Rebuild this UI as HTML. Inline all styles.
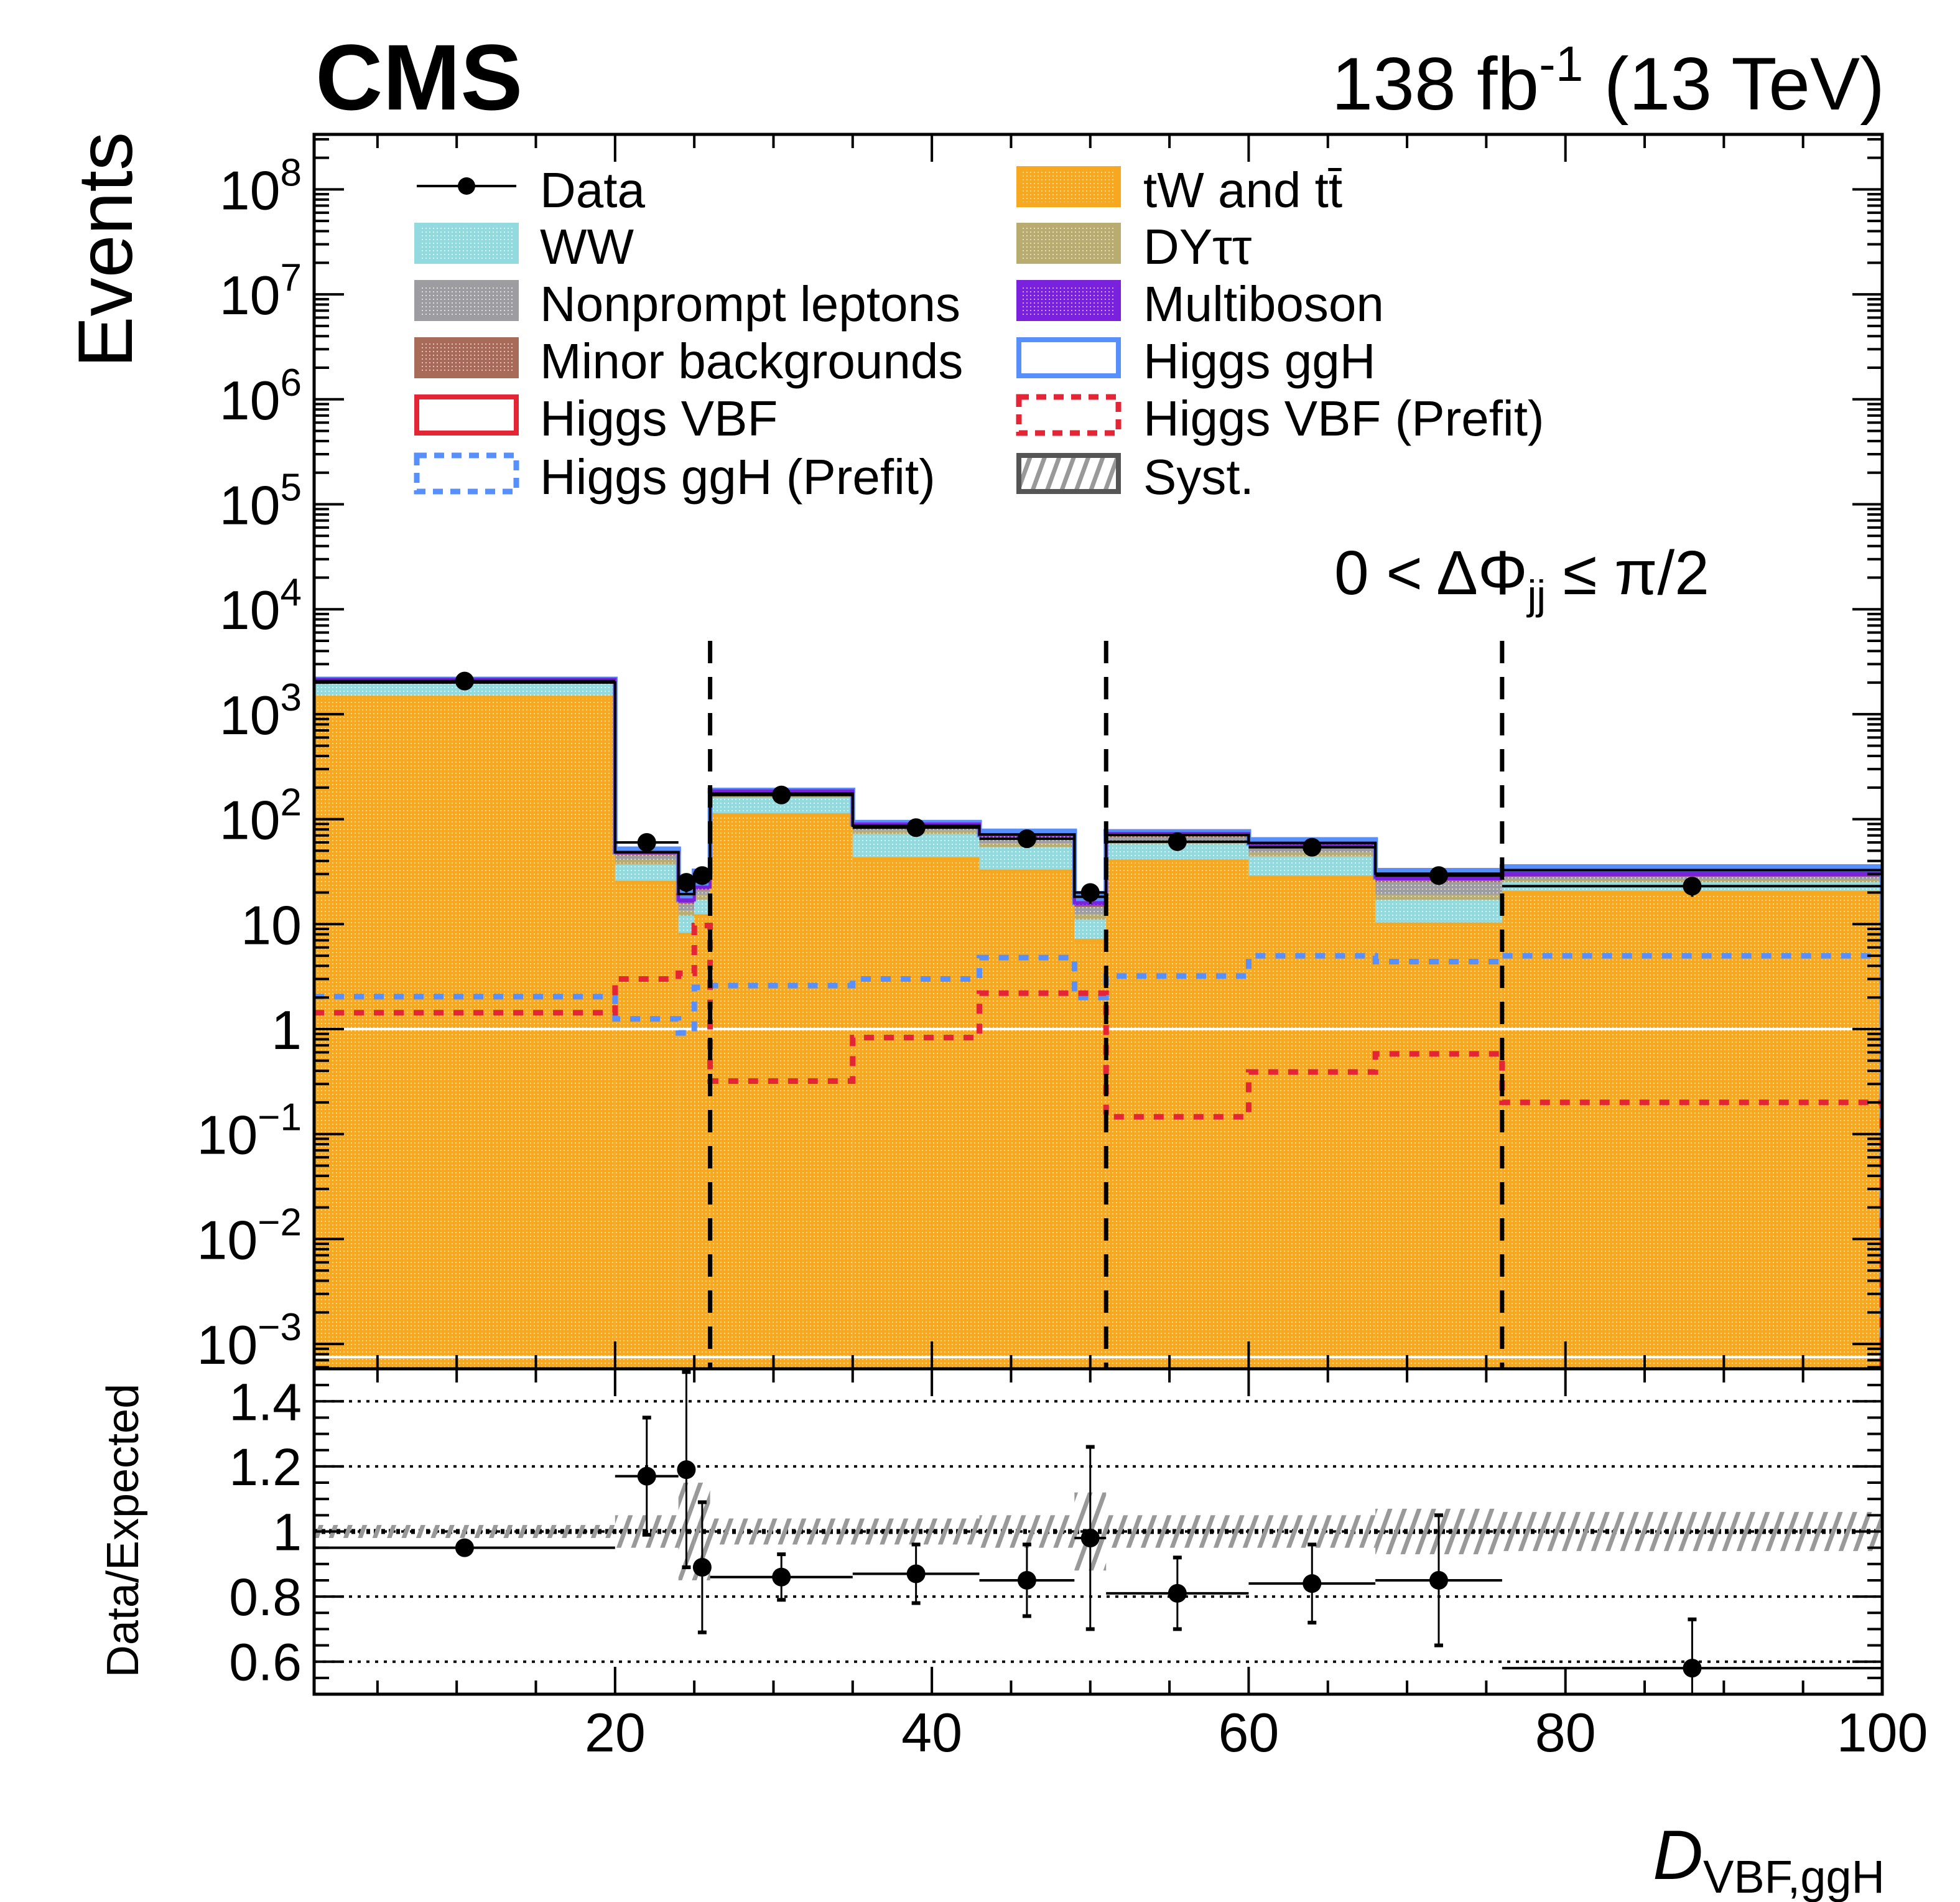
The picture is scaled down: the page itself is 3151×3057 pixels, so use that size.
<!DOCTYPE html>
<html><head><meta charset="utf-8"><style>
html,body{margin:0;padding:0;background:#fff}
svg{display:block}
text{font-family:"Liberation Sans",Arial,sans-serif;fill:#000}
</style></head><body>
<svg id="c" width="3151" height="3057" viewBox="0 0 3151 3057" xmlns="http://www.w3.org/2000/svg">
<defs>
<pattern id="pOr" width="6" height="6" patternUnits="userSpaceOnUse"><rect width="6" height="6" fill="#f6a821"/><rect x="0" y="0" width="2" height="2" fill="#fcd98a"/></pattern>
<pattern id="pWW" width="6" height="6" patternUnits="userSpaceOnUse"><rect width="6" height="6" fill="#92dadd"/><rect width="2" height="2" fill="#d8f2f3"/></pattern>
<pattern id="pDY" width="6" height="6" patternUnits="userSpaceOnUse"><rect width="6" height="6" fill="#b9ac70"/><rect width="2" height="2" fill="#e3dcbf"/></pattern>
<pattern id="pNP" width="6" height="6" patternUnits="userSpaceOnUse"><rect width="6" height="6" fill="#9c9ca1"/><rect width="2" height="2" fill="#dcdcdc"/></pattern>
<pattern id="pMin" width="6" height="6" patternUnits="userSpaceOnUse"><rect width="6" height="6" fill="#a96b59"/><rect width="2" height="2" fill="#e0c2b9"/></pattern>
<pattern id="pMB" width="6" height="6" patternUnits="userSpaceOnUse"><rect width="6" height="6" fill="#7a21dd"/><rect width="2" height="2" fill="#c9a4f0"/></pattern>
<pattern id="pHatch" width="22" height="22" patternUnits="userSpaceOnUse" patternTransform="rotate(20)"><rect x="0" y="0" width="7" height="22" fill="#999"/></pattern>
</defs>
<g id="g"></g>
</svg>
<script>
// ----- data -----
const binEdges = [1,20,24,25,26,35,43,49,51,60,68,76,100];
const dataVals = [2070,60,25,29,170,83,65,20,61,54,29,23];
const ratioVals = [0.95,1.17,1.19,0.89,0.86,0.87,0.85,0.98,0.81,0.84,0.85,0.58];
const ratioErr = [0.015,0.18,0.3,0.2,0.07,0.09,0.11,0.28,0.11,0.12,0.2,0.15];
const tWVals = [1450,25,8,12,110,42,32,7,40,28,10,20];
const wwVals = [500,12,4,5,50,30,22,4,18,16,7,5];
const dyVals = [80,4,1.5,2,10,6,5,1.5,4,4,2,1.5];
const npVals = [60,4,2,2,8,6,6,2,5,5,6,1.5];
const minorVals = [30,1.5,0.5,0.5,3,2,2,0.5,2,2,1,0.5];
const mbVals = [30,2,1,1,5,4,4,1,4,4,2,2];
const ggHVals = [1.8,1,0.8,1.5,2.2,2.5,4,1.7,2.8,4.5,4,4.5];
const vbfVals = [1.2,2.5,3,8,0.3,0.6,1.9,1.9,0.13,0.33,0.5,0.17];
const ggHPrefit = [2.04,1.25,0.92,2.5,2.6,3.0,4.8,2.0,3.2,5.0,4.4,5.0];
const vbfPrefit = [1.43,3.0,3.4,9.7,0.32,0.83,2.2,2.2,0.146,0.39,0.58,0.20];
const systErr = [0.02,0.05,0.15,0.15,0.04,0.04,0.05,0.12,0.05,0.05,0.07,0.06];
const dividerX = [26,51,76];
const xTicks = [20,40,60,80,100];
const yTickExp = [-3,-2,-1,0,1,2,3,4,5,6,7,8];
const rTicks = [0.6,0.8,1.0,1.2,1.4];

// ----- axes -----
const X0=505,X1=3026,YT=216,YM=2200,YR=2723;
const xs=v=>X0+(v-1)*(X1-X0)/99;
const ys=v=>1654-168.7*Math.log10(Math.max(v,1e-4));
const yr=r=>YM+(1.5-r)*(YR-YM);
const g=document.getElementById('g');
const svgRoot=document.getElementById('c');
const NS='http://www.w3.org/2000/svg';
function el(tag,attrs,parent){const e=document.createElementNS(NS,tag);for(const k in attrs)e.setAttribute(k,attrs[k]);(parent||g).appendChild(e);return e;}

const cp=el('clipPath',{id:'cm'});el('rect',{x:X0,y:YT,width:X1-X0,height:YM-YT},cp);
const main=el('g',{'clip-path':'url(#cm)'});



const comps=[[tWVals,'url(#pOr)','#f6a821','tw-tt'],[wwVals,'url(#pWW)','#92dadd','ww'],[dyVals,'url(#pDY)','#b9ac70','dy'],[npVals,'url(#pNP)','#9c9ca1','nonprompt'],[minorVals,'url(#pMin)','#a96b59','minor'],[mbVals,'url(#pMB)','#7a21dd','multiboson'],[ggHVals,'#fff','#5790fc','higgs-ggh'],[vbfVals,'#fff','#e42536','higgs-vbf']];
const nb=dataVals.length;
const totals=[];
for(let i=0;i<nb;i++){
  let cum=0;
  const xa=xs(binEdges[i]),xb=xs(binEdges[i+1]);
  const layers=[];
  comps.forEach(c=>{const lo=cum;cum+=c[0][i];layers.push([lo,cum,c]);});
  totals.push(cum);
  for(let k=layers.length-1;k>=0;k--){
    const [lo,hi,c]=layers[k];
    const r=el('rect',{x:xa,y:ys(hi),width:xb-xa,height:(k==0?YM+5:ys(lo))-ys(hi),fill:c[1]},main);
    
    
    if(k>=6){r.setAttribute('stroke',c[2]);r.setAttribute('stroke-width','8');r.setAttribute('fill','none');}
  }
  el('line',{x1:xa,x2:xb,y1:ys(tWVals[i]),y2:ys(tWVals[i]),stroke:'#f6a821','stroke-width':5},main);
}
el('line',{x1:X0,x2:X1,y1:ys(1),y2:ys(1),stroke:'#fff','stroke-width':4},main);
el('line',{x1:X0,x2:X1,y1:ys(0.00075),y2:ys(0.00075),stroke:'#fff','stroke-width':4},main);
function stepPath(vals){let d='';for(let i=0;i<vals.length;i++){const xa=xs(binEdges[i]),xb=xs(binEdges[i+1]);d+=(i?'L':'M')+xa+','+ys(vals[i])+'L'+xb+','+ys(vals[i]);}return d;}
const tp=el('path',{d:stepPath(totals)+'L'+xs(100)+','+YM,fill:'none',stroke:'#5790fc','stroke-width':8},main);


const mbTop=totals.map((t,i)=>t-ggHVals[i]-vbfVals[i]);
el('path',{d:stepPath(mbTop),fill:'none',stroke:'#7a21dd','stroke-width':5},main);
el('path',{d:stepPath(totals.map(t=>t*0.93)),fill:'none',stroke:'#000','stroke-width':4},main);
const p1=el('path',{d:stepPath(ggHPrefit)+'L'+xs(100)+','+YM,fill:'none',stroke:'#5790fc','stroke-width':9,'stroke-dasharray':'16 16'},main);


const p2=el('path',{d:stepPath(vbfPrefit)+'L'+xs(100)+','+YM,fill:'none',stroke:'#e42536','stroke-width':9,'stroke-dasharray':'16 16'},main);


dividerX.forEach((v,i)=>{const l=el('line',{x1:xs(v),x2:xs(v),y1:ys(5000),y2:YM,stroke:'#000','stroke-width':7,'stroke-dasharray':'36 22'},main);

});
for(let i=0;i<nb;i++){
  const xa=xs(binEdges[i]),xb=xs(binEdges[i+1]),xc=(xa+xb)/2,y=ys(dataVals[i]);
  const e=Math.sqrt(dataVals[i]);
  el('line',{x1:xa,x2:xb,y1:y,y2:y,stroke:'#000','stroke-width':4},main);
  el('line',{x1:xc,x2:xc,y1:ys(dataVals[i]+e),y2:ys(dataVals[i]-e),stroke:'#000','stroke-width':4},main);
  const c=el('circle',{cx:xc,cy:y,r:15,fill:'#000'},main);
  
  
}

// ratio panel
const cr=el('clipPath',{id:'cr'});el('rect',{x:X0,y:YM,width:X1-X0,height:YR-YM},cr);
const rp=el('g',{'clip-path':'url(#cr)'});


rTicks.forEach(r=>el('line',{x1:X0,x2:X1,y1:yr(r),y2:yr(r),stroke:'#000','stroke-width':4,'stroke-dasharray':'5 9'},rp));
el('line',{x1:X0,x2:X1,y1:yr(1),y2:yr(1),stroke:'#000','stroke-width':8,'stroke-dasharray':'6 6'},rp);
for(let i=0;i<nb;i++){
  const xa=xs(binEdges[i]),xb=xs(binEdges[i+1]);
  const s=el('rect',{x:xa,y:yr(1+systErr[i]),width:xb-xa,height:yr(1-systErr[i])-yr(1+systErr[i]),fill:'url(#pHatch)'},rp);
  
  
}
for(let i=0;i<nb;i++){
  const xa=xs(binEdges[i]),xb=xs(binEdges[i+1]),xc=(xa+xb)/2,y=yr(ratioVals[i]);
  el('line',{x1:xa,x2:xb,y1:y,y2:y,stroke:'#000','stroke-width':4},rp);
  el('line',{x1:xc,x2:xc,y1:yr(ratioVals[i]+ratioErr[i]),y2:yr(ratioVals[i]-ratioErr[i]),stroke:'#000','stroke-width':3},rp);
  [ratioVals[i]+ratioErr[i],ratioVals[i]-ratioErr[i]].forEach(v=>el('line',{x1:xc-7,x2:xc+7,y1:yr(v),y2:yr(v),stroke:'#000','stroke-width':6},rp));
  const c=el('circle',{cx:xc,cy:y,r:15,fill:'#000'},rp);
  
  
}

// frames
el('rect',{x:X0,y:YT,width:X1-X0,height:YM-YT,fill:'none',stroke:'#000','stroke-width':5});
el('rect',{x:X0,y:YM,width:X1-X0,height:YR-YM,fill:'none',stroke:'#000','stroke-width':5});
for(let e=-4;e<=8;e++){
  for(let m=1;m<10;m++){
    const v=m*Math.pow(10,e),y=ys(v);
    if(y<YT||y>YM)continue;
    const L=m==1?48:24;
    el('line',{x1:X0,x2:X0+L,y1:y,y2:y,stroke:'#000','stroke-width':4});
    el('line',{x1:X1-L,x2:X1,y1:y,y2:y,stroke:'#000','stroke-width':4});
  }
}
yTickExp.forEach(e=>{
  const y=ys(Math.pow(10,e));
  const t=el('text',{x:X0-20,y:y+32,'font-size':88,'text-anchor':'end'});
  
  
  if(e==0)t.textContent='1';else if(e==1)t.textContent='10';
  else{t.textContent='10';const s=el('tspan',{dy:-38,'font-size':62},t);s.textContent=(e<0?'\u2212':'')+Math.abs(e);}
});
for(let v=5;v<=100;v+=5){
  const x=xs(v),L=v%20==0?44:22;
  [YM,YR].forEach(yb=>el('line',{x1:x,x2:x,y1:yb,y2:yb-L,stroke:'#000','stroke-width':4}));
  el('line',{x1:x,x2:x,y1:YT,y2:YT+L,stroke:'#000','stroke-width':4});
  el('line',{x1:x,x2:x,y1:YM,y2:YM+L,stroke:'#000','stroke-width':4});
}
xTicks.forEach(v=>{const t=el('text',{x:xs(v),y:2815,'font-size':88,'text-anchor':'middle'});t.textContent=v;

});
for(let r=0.55;r<1.5;r+=0.05){
  const y=yr(r),maj=Math.abs(r*5-Math.round(r*5))<0.01;const L=maj?48:24;
  el('line',{x1:X0,x2:X0+L,y1:y,y2:y,stroke:'#000','stroke-width':4});
  el('line',{x1:X1-L,x2:X1,y1:y,y2:y,stroke:'#000','stroke-width':4});
}
rTicks.forEach(r=>{const t=el('text',{x:X0-20,y:yr(r)+30,'font-size':84,'text-anchor':'end'});t.textContent=(r==1?'1':r.toFixed(1));

});

// ----- labels -----
function T(x,y,size,txt,name,extra){const t=document.createElementNS(NS,'text');t.setAttribute('x',x);t.setAttribute('y',y);t.setAttribute('font-size',size);if(extra)for(const k in extra)t.setAttribute(k,extra[k]);t.innerHTML=txt;


svgRoot.appendChild(t);return t;}
T(507,176,150,'CMS','cms-label',{'font-weight':'bold'});
T(3030,176,120,'138 fb<tspan dy="-46" font-size="80">-1</tspan><tspan dy="46"> (13 TeV)</tspan>','lumi-label',{'text-anchor':'end'});
T(212,212,124,'Events','y-axis-title',{'text-anchor':'end',transform:'rotate(-90 212 212)'});
T(222,2460,72,'Data/Expected','ratio-axis-title',{'text-anchor':'middle',transform:'rotate(-90 222 2460)'});
T(3030,3020,112,'<tspan font-style="italic">D</tspan><tspan font-size="74" dy="22">VBF,ggH</tspan>','x-axis-title',{'text-anchor':'end'});
T(2145,955,100,'0 &lt; \u0394\u03A6<tspan font-size="66" dy="24">jj</tspan><tspan dy="-24"> \u2264 \u03C0/2</tspan>','category-annotation');
const rows=[305,396,488,580,672,766];
function box(x,y,fill,stroke,dash,name){const r=document.createElementNS(NS,'rect');r.setAttribute('x',x);r.setAttribute('y',y-34);r.setAttribute('width',160);r.setAttribute('height',58);r.setAttribute('fill',fill);r.setAttribute('stroke',stroke);r.setAttribute('stroke-width',dash?9:8);if(dash)r.setAttribute('stroke-dasharray','16 12');


svgRoot.appendChild(r);}
const lx1=670,lx2=1638,tx1=868,tx2=1838;
const dl=document.createElementNS(NS,'line');dl.setAttribute('x1',lx1);dl.setAttribute('x2',lx1+160);dl.setAttribute('y1',rows[0]-6);dl.setAttribute('y2',rows[0]-6);dl.setAttribute('stroke','#000');dl.setAttribute('stroke-width',4);


svgRoot.appendChild(dl);
const dc=document.createElementNS(NS,'circle');dc.setAttribute('cx',lx1+80);dc.setAttribute('cy',rows[0]-6);dc.setAttribute('r',14);


svgRoot.appendChild(dc);
T(tx1,rows[0]+28,80,'Data','legend-data');
box(lx1,rows[1],'url(#pWW)','#92dadd',0,'legend-ww-swatch');T(tx1,rows[1]+28,80,'WW','legend-ww');
box(lx1,rows[2],'url(#pNP)','#9c9ca1',0,'legend-nonprompt-swatch');T(tx1,rows[2]+28,80,'Nonprompt leptons','legend-nonprompt');
box(lx1,rows[3],'url(#pMin)','#a96b59',0,'legend-minor-swatch');T(tx1,rows[3]+28,80,'Minor backgrounds','legend-minor');
box(lx1,rows[4],'#fff','#e42536',0,'legend-vbf-swatch');T(tx1,rows[4]+28,80,'Higgs VBF','legend-vbf');
box(lx1,rows[5],'#fff','#5790fc',1,'legend-ggh-prefit-swatch');T(tx1,rows[5]+28,80,'Higgs ggH (Prefit)','legend-ggh-prefit');
box(lx2,rows[0],'url(#pOr)','#f6a821',0,'legend-tw-swatch');T(tx2,rows[0]+28,80,'tW and t\u0074\u0304','legend-tw');
box(lx2,rows[1],'url(#pDY)','#b9ac70',0,'legend-dy-swatch');T(tx2,rows[1]+28,80,'DY\u03C4\u03C4','legend-dy');
box(lx2,rows[2],'url(#pMB)','#7a21dd',0,'legend-multiboson-swatch');T(tx2,rows[2]+28,80,'Multiboson','legend-multiboson');
box(lx2,rows[3],'#fff','#5790fc',0,'legend-ggh-swatch');T(tx2,rows[3]+28,80,'Higgs ggH','legend-ggh');
box(lx2,rows[4],'#fff','#e42536',1,'legend-vbf-prefit-swatch');T(tx2,rows[4]+28,80,'Higgs VBF (Prefit)','legend-vbf-prefit');
box(lx2,rows[5],'url(#pHatch)','#555',0,'legend-syst-swatch');T(tx2,rows[5]+28,80,'Syst.','legend-syst');
</script>
</body></html>
